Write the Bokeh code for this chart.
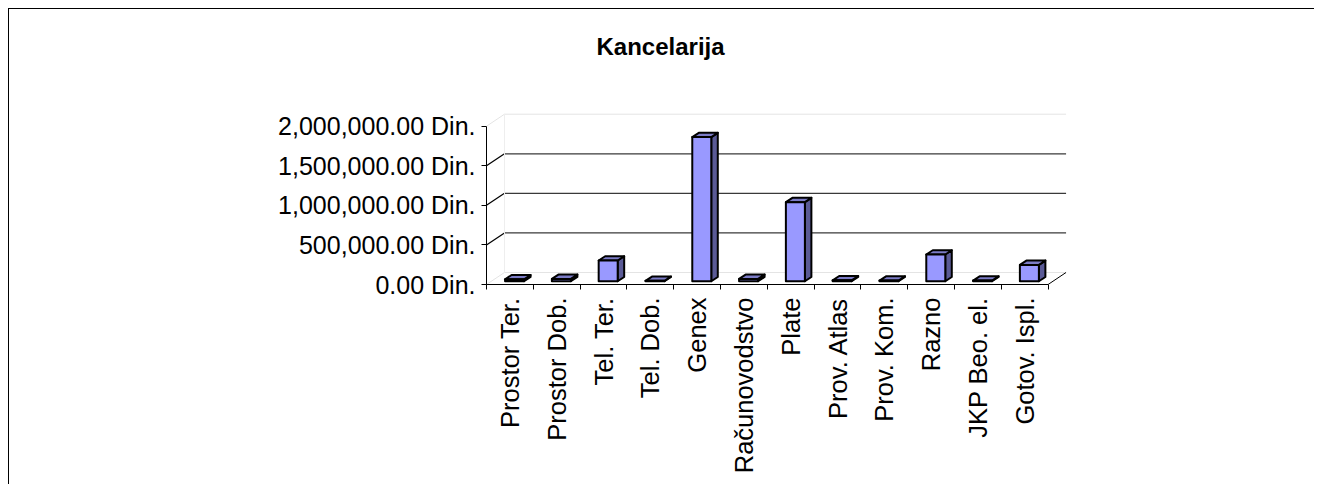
import numpy as np
from bokeh.plotting import figure
from bokeh.models import FixedTicker, CustomJSTickFormatter, Title, Range1d
from bokeh.embed import file_html
from bokeh.resources import INLINE

# ---- data ----
categories = ["Prostor Ter.", "Prostor Dob.", "Tel. Ter.", "Tel. Dob.", "Genex",
              "Računovodstvo", "Plate", "Prov. Atlas", "Prov. Kom.", "Razno",
              "JKP Beo. el.", "Gotov. Ispl."]
values = [25000, 30000, 262000, 5000, 1822000, 30000, 1000000, 12000, 8000, 338000, 8000, 207000]
y_ticks = [0, 500000, 1000000, 1500000, 2000000]
title_text = "Kancelarija"

FONT = "Liberation Sans"
n = len(categories)
vals = np.array(values, dtype=float)

Y_PER_PX = 2300000 / 182.0
FH = 205
p = figure(frame_width=585, frame_height=FH, output_backend="svg", toolbar_location=None,
           x_range=Range1d(0, 12.5), y_range=Range1d(0, FH * Y_PER_PX),
           min_border_left=477, min_border_top=70, min_border_right=243, min_border_bottom=200)
p.styles = {"border-left": "1px solid #000", "border-top": "1px solid #000",
            "border-right": "0px none", "border-bottom": "0px none",
            "background-color": "white", "overflow": "hidden",
            "position": "relative", "left": "8px", "top": "8px"}
p.outline_line_color = None
p.grid.visible = False
p.background_fill_color = "white"
p.border_fill_color = "white"

# depth of the floor (in data units), and bar depth
DX = 0.384
DY = 152000.0
BW = 0.406
BSX = 0.10      # shift of the bar front face into depth
BSY = 41000.0
BDX = 0.139
BDY = 54000.0

# back wall and floor
strong = [v for v in y_ticks if 0 < v < max(y_ticks)]
faint = [min(y_ticks), max(y_ticks)]
p.segment(x0=[DX] * len(strong), y0=[v + DY for v in strong], x1=[n + DX] * len(strong),
          y1=[v + DY for v in strong], line_color="#3a3a3a", line_width=1.2)
p.segment(x0=[0] * len(strong), y0=strong, x1=[DX] * len(strong), y1=[v + DY for v in strong],
          line_color="#000000", line_width=1.2)
p.segment(x0=[DX] * len(faint), y0=[v + DY for v in faint], x1=[n + DX] * len(faint),
          y1=[v + DY for v in faint], line_color="#e4e4e4", line_width=1)
p.segment(x0=[0] * len(faint), y0=faint, x1=[DX] * len(faint), y1=[v + DY for v in faint],
          line_color="#e4e4e4", line_width=1)
p.segment(x0=[DX], y0=[DY], x1=[DX], y1=[max(y_ticks) + DY], line_color="#eeeeee", line_width=1)
p.segment(x0=[n], y0=[0], x1=[n + DX], y1=[DY], line_color="#000000", line_width=1)

# bars (3D boxes)
idx = np.arange(n)
xl = idx + 0.5 - BW / 2 + BSX
xr = xl + BW
yb = np.full(n, BSY)
yt = yb + vals

front_xs = [[a, b, b, a] for a, b in zip(xl, xr)]
front_ys = [[c, c, d, d] for c, d in zip(yb, yt)]
side_xs = [[b, b + BDX, b + BDX, b] for b in xr]
side_ys = [[c, c + BDY, d + BDY, d] for c, d in zip(yb, yt)]
top_xs = [[a, a + BDX, b + BDX, b] for a, b in zip(xl, xr)]
top_ys = [[d, d + BDY, d + BDY, d] for d in yt]

p.patches(side_xs, side_ys, fill_color="#5a5a96", line_color="black", line_width=2,
          line_join="round")
p.patches(top_xs, top_ys, fill_color="#7b7bc6", line_color="black", line_width=2,
          line_join="round")
p.patches(front_xs, front_ys, fill_color="#9999ff", line_color="black", line_width=2,
          line_join="round")

# axes
yax = p.yaxis[0]
yax.ticker = FixedTicker(ticks=y_ticks, minor_ticks=[])
yax.formatter = CustomJSTickFormatter(code="""
return tick.toLocaleString('en-US', {minimumFractionDigits: 2, maximumFractionDigits: 2}) + ' Din.';
""")
yax.bounds = (min(y_ticks), max(y_ticks))
yax.major_tick_out = 5
yax.major_tick_in = 0
yax.minor_tick_out = 0
yax.minor_tick_in = 0
yax.major_label_standoff = 6
yax.major_label_text_font = FONT
yax.major_label_text_font_size = "25px"
yax.major_label_text_color = "black"
yax.axis_line_color = "black"
yax.major_tick_line_color = "black"

xax = p.xaxis[0]
xax.ticker = FixedTicker(ticks=list(idx + 0.5), minor_ticks=list(range(n + 1)))
xax.formatter = CustomJSTickFormatter(args=dict(labels=categories),
                                      code="return labels[Math.floor(tick)];")
xax.bounds = (0, n)
xax.major_tick_out = 0
xax.major_tick_in = 0
xax.minor_tick_out = 5
xax.minor_tick_in = 0
xax.major_label_orientation = np.pi / 2
xax.major_label_standoff = 8
xax.major_label_text_font = FONT
xax.major_label_text_font_size = "25.5px"
xax.major_label_text_color = "black"
xax.axis_line_color = "black"
xax.minor_tick_line_color = "black"

t = Title(text=title_text, align="left", offset=110, standoff=39,
          text_font=FONT, text_font_size="24px", text_font_style="bold", text_color="black")
p.title = t

open("out.html", "w").write(file_html(p, INLINE))
